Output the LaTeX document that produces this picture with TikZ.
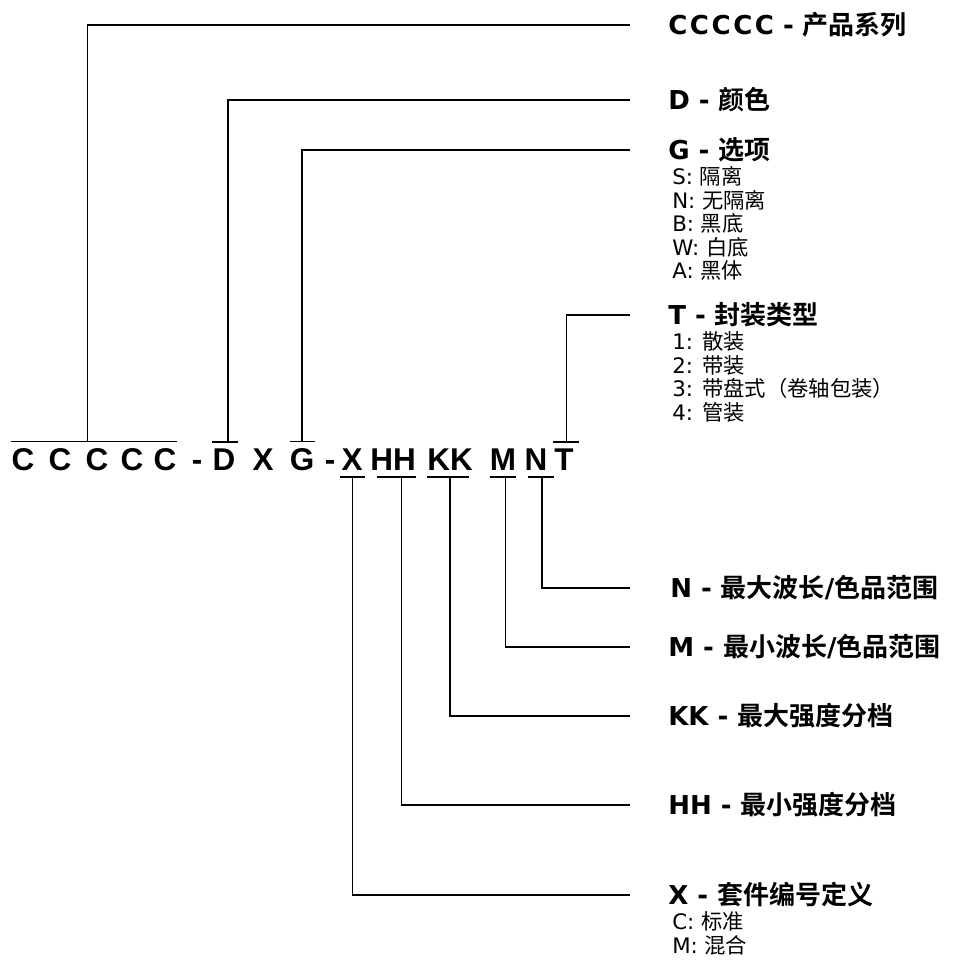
\documentclass[tikz,border=0pt]{standalone}
\usepackage{fontspec}
\setmainfont{DejaVu Sans}
\newfontfamily\cjk{Noto Sans CJK SC}[BoldFont={Noto Sans CJK SC Bold}]
\newfontfamily\codefont{Liberation Sans}
\newfontfamily\widefont{DejaVu Sans}[LetterSpace=10]
\newcommand{\zh}[1]{{\cjk #1}}
\usetikzlibrary{positioning}
\tikzset{
  code/.style={font=\codefont\bfseries\fontsize{23.6}{28}\selectfont, inner sep=0pt, anchor=base},
  head/.style={font=\bfseries\fontsize{19.5}{23}\selectfont, inner sep=0pt, anchor=west},
  items/.style={font=\fontsize{16}{17.6}\selectfont, inner sep=0pt, align=left},
  bar/.style={line width=1pt},
  lead/.style={line width=1pt},
}

\begin{document}
\begin{tikzpicture}[x=0.75pt,y=-0.75pt]
    \useasboundingbox (0,0) rectangle (954,962);

    % Part number
    \foreach \i/\xx in {1/23,2/60,3/97,4/132,5/165}
        \node[code] (c\i) at (\xx,470) {C};
    \node[code] (dash1) at (197,470) {-};
    \node[code] (d) at (224,470) {D};
    \node[code] (x1) at (263,470) {X};
    \node[code] (g) at (302,470) {G};
    \node[code] (dash2) at (330,470) {-};
    \node[code] (x2) at (352,470) {X};
    \node[code] (hh) at (393,470) {HH};
    \node[code] (kk) at (450,470) {KK};
    \node[code] (m) at (503,470) {M};
    \node[code] (n) at (536,470) {N};
    \node[code] (t) at (564,470) {T};

    % Over and under bars
    \draw[bar] ([yshift=4.5pt]c1.north west) -- coordinate[pos=0.46] (ccbar) ([yshift=4.5pt]c5.north east);
    \draw[bar] ([yshift=4.5pt]d.north west) -- coordinate[pos=0.6] (dbar) ([yshift=4.5pt,xshift=2pt]d.north east);
    \draw[bar] ([yshift=4.5pt]g.north west) -- coordinate (gbar) ([yshift=4.5pt]g.north east);
    \draw[bar] ([yshift=4.5pt,xshift=-1pt]t.north west) -- coordinate[pos=0.52] (tbar) ([yshift=4.5pt,xshift=4pt]t.north east);
    \draw[bar] ([yshift=-5pt,xshift=-1pt]x2.south west) -- coordinate (xbar) ([yshift=-5pt,xshift=2pt]x2.south east);
    \draw[bar] ([yshift=-5pt,xshift=5pt]hh.south west) -- coordinate[pos=0.63] (hhbar) ([yshift=-5pt]hh.south east);
    \draw[bar] ([yshift=-5pt]kk.south west) -- coordinate[pos=0.55] (kkbar) ([yshift=-5pt,xshift=-3pt]kk.south east);
    \draw[bar] ([yshift=-5pt]m.south west) -- coordinate[pos=0.6] (mbar) ([yshift=-5pt]m.south east);
    \draw[bar] ([yshift=-5pt,xshift=3pt]n.south west) -- coordinate[pos=0.52] (nbar) ([yshift=-5pt,xshift=5pt]n.south east);

    % Labels above
    \node[head] (lcc) at (668,25) {{\widefont CCCCC} - \zh{产品系列}};
    \node[head] (ld) at (668,100) {D - \zh{颜色}};
    \node[head] (lg) at (668,150) {G - \zh{选项}};
    \node[items, below right=3pt and 3pt of lg.south west] (lgi) {S: \zh{隔离}\\N: \zh{无隔离}\\B: \zh{黑底}\\W: \zh{白底}\\A: \zh{黑体}};
    \node[head] (lt) at (668,315) {T - \zh{封装类型}};
    \node[items, below right=3pt and 3pt of lt.south west] (lti) {1: \zh{散装}\\2: \zh{带装}\\3: \zh{带盘式（卷轴包装）}\\4: \zh{管装}};

    % Labels below
    \node[head] (ln) at (670,588) {N - \zh{最大波长}/\zh{色品范围}};
    \node[head] (lm) at (668,647) {M - \zh{最小波长}/\zh{色品范围}};
    \node[head] (lkk) at (668,716) {KK - \zh{最大强度分档}};
    \node[head] (lhh) at (668,805) {HH - \zh{最小强度分档}};
    \node[head] (lx) at (668,895) {X - \zh{套件编号定义}};
    \node[items, below right=3pt and 3pt of lx.south west] (lxi) {C: \zh{标准}\\M: \zh{混合}};

    % Leaders
    \draw[lead] (ccbar) |- ([xshift=-28.5pt]lcc.west);
    \draw[lead] (dbar) |- ([xshift=-28.5pt]ld.west);
    \draw[lead] (gbar) |- ([xshift=-28.5pt]lg.west);
    \draw[lead] (tbar) |- ([xshift=-28.5pt]lt.west);
    \draw[lead] (nbar) |- ([xshift=-30pt]ln.west);
    \draw[lead] (mbar) |- ([xshift=-28.5pt]lm.west);
    \draw[lead] (kkbar) |- ([xshift=-28.5pt]lkk.west);
    \draw[lead] (hhbar) |- ([xshift=-28.5pt]lhh.west);
    \draw[lead] (xbar) |- ([xshift=-28.5pt]lx.west);
\end{tikzpicture}
\end{document}
